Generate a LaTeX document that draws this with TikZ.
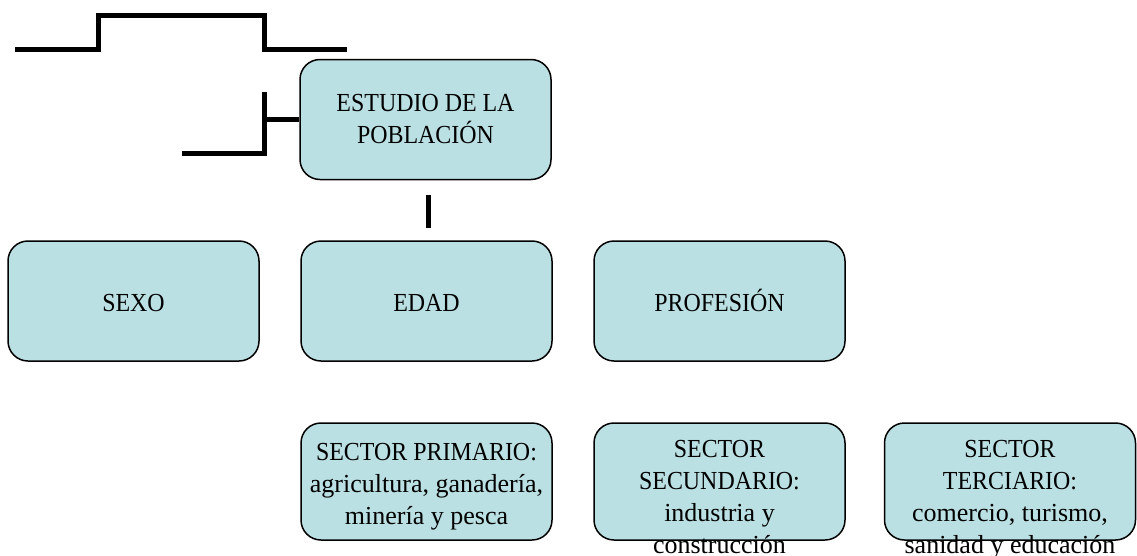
\documentclass[tikz,border=0pt]{standalone}
\usepackage{fontspec}
\setmainfont{Liberation Serif}
\newfontfamily\capsf[FakeStretch=0.92]{Liberation Serif}
\usetikzlibrary{calc}
\definecolor{boxfill}{RGB}{187,224,227}
\begin{document}
\begin{tikzpicture}[x=1pt,y=-1pt,
  box/.style={draw=black, line width=1.5pt, fill=boxfill, rounded corners=20pt,
    minimum width=251pt, minimum height=120pt, inner sep=0pt,
    font=\fontsize{26}{32}\selectfont\capsf, align=center},
  onebox/.style={box, text height=22pt, text depth=2pt},
  lowbox/.style={box, minimum height=117pt},
  txt/.style={inner sep=0pt, font=\fontsize{26}{32}\selectfont, align=center},
  conn/.style={line width=5pt}]
\useasboundingbox (0,0) rectangle (1137,555);

% top floating elbow connectors
\coordinate (t1) at (15,49);
\coordinate (tm) at (182,15);
\coordinate (t6) at (347,49);
\draw[conn] (t1) -- (98,49) -- (98,15) -- (tm);
\draw[conn] (tm) -- (264,15) -- (264,49) -- (t6);

% main node
\node[box] (est) at (425.5,119.5) {ESTUDIO DE LA\\POBLACIÓN};

% bracket
\coordinate (b1) at (182,153);
\coordinate (b2) at (264,92);
\draw[conn] (b1) -| (b2);
\draw[conn] (b2 |- est.west) -- (est.west);

% tick below
\coordinate (k1) at (428,195);
\coordinate (k2) at (428,228);
\draw[conn] (k1) -- (k2);

% second row
\node[onebox] (sexo) at (133.5,301) {SEXO};
\node[onebox] (edad) at (426.5,301) {EDAD};
\node[onebox] (prof) at (719.5,301) {PROFESIÓN};

% third row
\node[lowbox] (prim) at (426.5,481.5) {};
\node[lowbox] (secu) at (719.5,481.5) {};
\node[lowbox] (terc) at (1010,481.5) {};

\node[txt, anchor=north] (primt) at ($(prim.north)+(0,21)$)
  {{\capsf SECTOR PRIMARIO:}\\agricultura, ganadería,\\minería y pesca};
\node[txt, anchor=north] (secut) at ($(secu.north)+(0,18)$)
  {{\capsf SECTOR}\\{\capsf SECUNDARIO:}\\industria y\\construcción};
\node[txt, anchor=north] (terct) at ($(terc.north)+(0,18)$)
  {{\capsf SECTOR}\\{\capsf TERCIARIO:}\\comercio, turismo,\\sanidad y educación};
\end{tikzpicture}
\end{document}
